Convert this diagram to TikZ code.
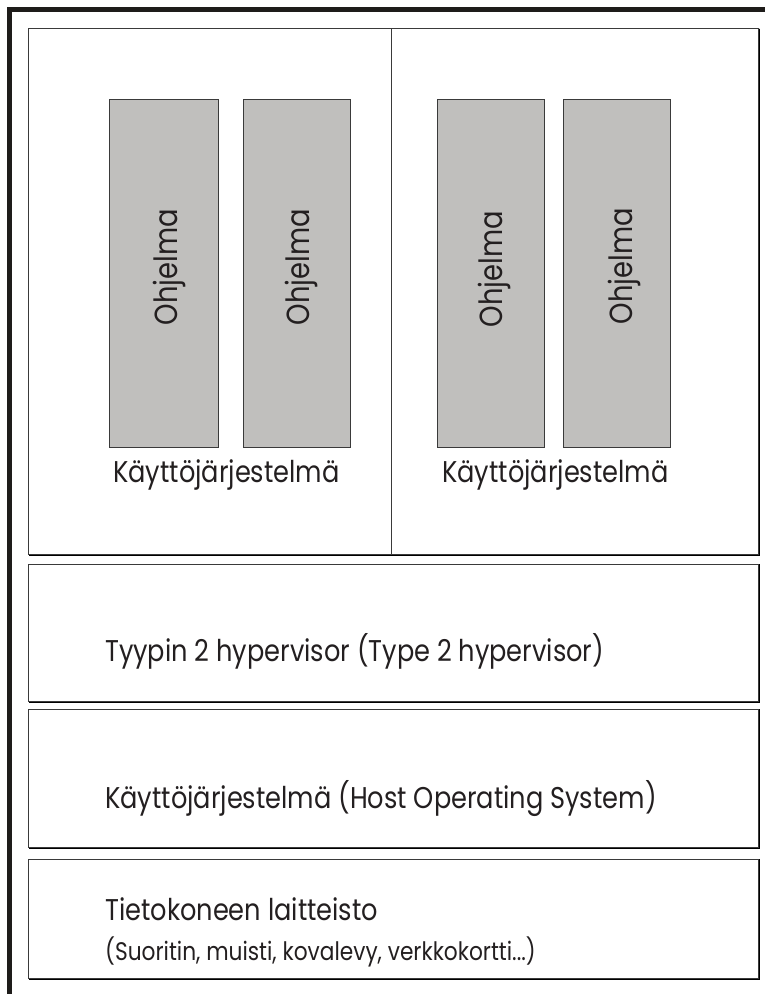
\documentclass[tikz,border=0pt]{standalone}
\usepackage{fontspec}
\setmainfont[FakeStretch=0.855]{Poppins}
\definecolor{ink}{HTML}{231F20}
\definecolor{frame}{HTML}{1E1C1A}
\definecolor{edge}{HTML}{3A3A3A}
\definecolor{shade}{HTML}{8A8A8A}
\definecolor{prog}{HTML}{C0BFBD}
\tikzset{
  layer/.style={draw=edge, line width=1pt, fill=white},
  progbox/.style={draw=edge, line width=1.2pt, fill=prog},
  label/.style={text=ink, inner sep=0pt, font=\fontsize{30}{30}\selectfont},
  small/.style={text=ink, inner sep=0pt, font=\fontsize{25.4}{25.4}\selectfont},
  vlabel/.style={text=ink, inner sep=0pt, rotate=90, anchor=base, font=\fontsize{32}{32}\selectfont},
}
\begin{document}
\begin{tikzpicture}[x=1pt,y=-1pt]
  \useasboundingbox (0,0) rectangle (765,994);
  % heavy outer frame, top and left edges
  \draw[frame, line width=5pt] (9.5,1000) -- (9.5,9.5) -- (770,9.5);

  % layered boxes with a light shadow on the right and bottom
  \foreach \top/\bot in {28.5/554, 564/701, 709/847, 859/978}{
    \draw[shade, line width=1.6pt] (759.5,\top) -- (759.5,\bot+1.5) -- (28.5,\bot+1.5);
    \draw[layer] (28.5,\top) rectangle (758,\bot);
  }
  \draw[edge, line width=1pt] (391,28.5) -- (391,554);

  % programs
  \node[progbox, minimum width=109pt, minimum height=348.5pt, anchor=north west] (p1) at (109,98.5) {};
  \node[progbox, minimum width=107pt, minimum height=348.5pt, anchor=north west] (p2) at (243,98.5) {};
  \node[progbox, minimum width=107pt, minimum height=348.5pt, anchor=north west] (p3) at (437,98.5) {};
  \node[progbox, minimum width=107pt, minimum height=348.5pt, anchor=north west] (p4) at (563,98.5) {};
  \node[vlabel] (t1) at (177,267) {Ohjelma};
  \node[vlabel] (t2) at (309,267) {Ohjelma};
  \node[vlabel] (t3) at (502,269) {Ohjelma};
  \node[vlabel] (t4) at (632,266) {Ohjelma};

  % guest operating systems
  \node[label, anchor=base west] (g1) at (113,482) {Käyttöjärjestelmä};
  \node[label, anchor=base west] (g2) at (442,482) {Käyttöjärjestelmä};

  % lower layers
  \node[label, anchor=base west] (hv) at (105,661) {Tyypin 2 hypervisor (Type 2 hypervisor)};
  \node[label, anchor=base west] (os) at (105,808) {Käyttöjärjestelmä (Host Operating System)};
  \node[label, anchor=base west] (hw) at (105,920) {Tietokoneen laitteisto};
  \node[small, anchor=base west] (hwd) at (105,960) {(Suoritin, muisti, kovalevy, verkkokortti...)};
\end{tikzpicture}
\end{document}
